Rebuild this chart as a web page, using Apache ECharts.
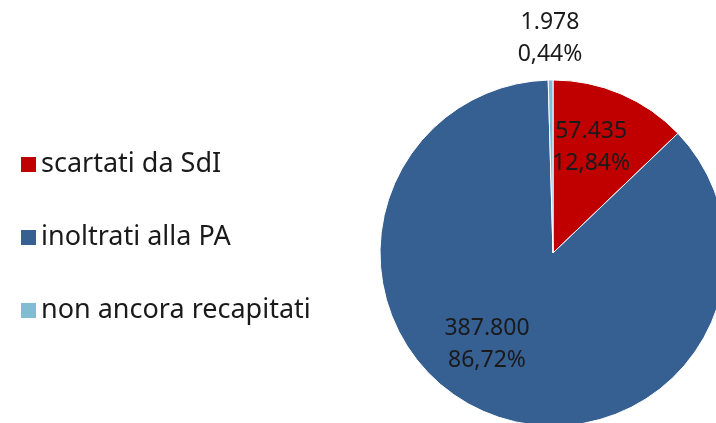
<!DOCTYPE html>
<html>
<head>
<meta charset="utf-8">
<script src="https://cdn.jsdelivr.net/npm/echarts@6/dist/echarts.min.js"></script>
<style>
html, body { margin: 0; padding: 0; background: #fff; }
#chart { width: 716px; height: 423px; }
</style>
</head>
<body>
<div id="chart"></div>
<script>
var names = ['scartati da SdI', 'inoltrati alla PA', 'non ancora recapitati'];
var values = [57435, 387800, 1978];
var valueLabels = ['57.435', '387.800', '1.978'];
var pctLabels = ['12,84%', '86,72%', '0,44%'];
var colors = ['#c00000', '#376092', '#80bdd3'];

var data = [];
for (var i = 0; i < names.length; i++) {
    data.push({value: values[i], name: names[i], itemStyle: {color: colors[i]}});
}
// the small slice gets its label outside
data[2].label = {position: 'outside'};
data[2].labelLine = {show: false};

var option = {
    animation: false,
    textStyle: {fontFamily: 'Noto Sans'},
    legend: {
        orient: 'vertical',
        left: 14,
        top: 146,
        itemGap: 46,
        itemWidth: 17,
        itemHeight: 17,
        icon: 'rect',
        data: names,
        textStyle: {fontSize: 27, color: '#1a1a1a', fontFamily: 'Noto Sans', padding: [0, 0, 0, -1]}
    },
    series: [
        {
            type: 'pie',
            center: [553, 253],
            radius: 173,
            startAngle: 90,
            clockwise: true,
            data: data,
            itemStyle: {borderColor: '#fff', borderWidth: 1},
            label: {
                position: 'inside',
                fontSize: 23,
                lineHeight: 32,
                color: '#1a1a1a',
                fontFamily: 'Noto Sans',
                formatter: function (p) {
                    return valueLabels[p.dataIndex] + '\n' + pctLabels[p.dataIndex];
                }
            },
            labelLayout: function (p) {
                if (p.dataIndex === 0) return {dx: 3, dy: -23};
                if (p.dataIndex === 1) return {dx: -32, dy: 9};
                return {x: 550, y: 38, align: 'center', verticalAlign: 'middle'};
            },
            emphasis: {disabled: true}
        }
    ]
};

var chart = echarts.init(document.getElementById('chart'));
chart.setOption(option);
</script>
</body>
</html>
